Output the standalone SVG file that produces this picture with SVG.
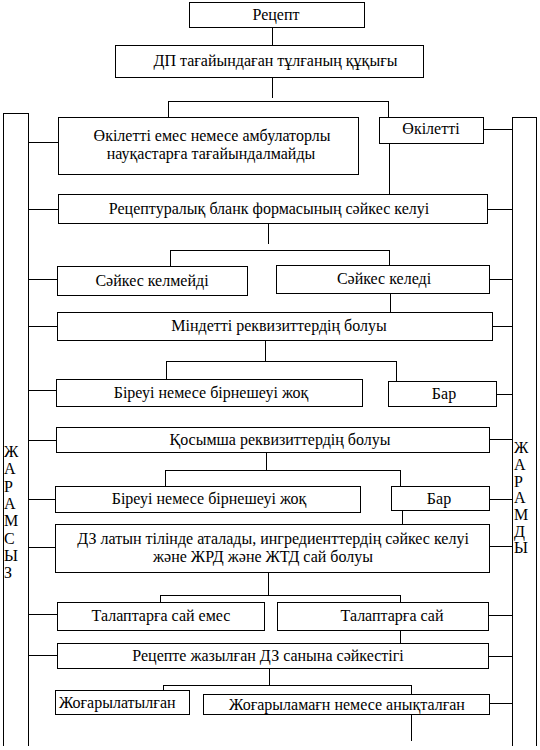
<svg xmlns="http://www.w3.org/2000/svg" width="540" height="750" viewBox="0 0 540 750">
<style>
  .box{fill:#fff;stroke:#000;stroke-width:1}
  .ln{fill:none;stroke:#000;stroke-width:1}
  text{font-family:"Liberation Serif","Times New Roman",serif;font-size:16px;fill:#000}
  .c{text-anchor:middle}
</style>
<rect width="540" height="750" fill="#fff"/>
<g id="connectors" class="ln" shape-rendering="crispEdges">
  <path d="M272.5,27 V45"/>
  <path d="M272.5,77 V97.5"/>
  <path d="M168.5,117 V101.5 H388.5 V117"/>
  <path d="M389.5,143 V194"/>
  <path d="M268.5,223 V244"/>
  <path d="M170.5,266 V250.5 H389.5 V265"/>
  <path d="M390.5,293 V312"/>
  <path d="M265.5,340 V361.5"/>
  <path d="M166.5,379 V361.5 H396.5 V381"/>
  <path d="M266.5,452 V470.5"/>
  <path d="M165.5,486 V470.5 H400.5 V486"/>
  <path d="M402.5,510 V524"/>
  <path d="M268.5,572 V595.5"/>
  <path d="M160.5,602 V595.5 H400.5 V602"/>
  <path d="M400.5,630 V643"/>
  <path d="M269.5,668 V685.5"/>
  <path d="M163.5,690 V685.5 H411.5 V694"/>
  <path d="M411.5,714 V741"/>
  <!-- left side connectors -->
  <path d="M29,142.5 H58"/>
  <path d="M29,209.5 H58"/>
  <path d="M29,279.5 H57"/>
  <path d="M29,326.5 H57"/>
  <path d="M29,390.5 H56"/>
  <path d="M29,440.5 H56"/>
  <path d="M29,499.5 H55"/>
  <path d="M29,547.5 H55"/>
  <path d="M29,614.5 H57"/>
  <path d="M29,655.5 H57"/>
  <!-- right side connectors -->
  <path d="M483,129.5 H512"/>
  <path d="M487,209.5 H512"/>
  <path d="M489,279.5 H512"/>
  <path d="M492,326.5 H512"/>
  <path d="M496,394.5 H512"/>
  <path d="M490,439.5 H512"/>
  <path d="M489,499.5 H512"/>
  <path d="M489,546.5 H512"/>
  <path d="M488,615.5 H512"/>
  <path d="M488,656.5 H512"/>
  <path d="M489,703.5 H512"/>
</g>
<g id="invalid">
  <path class="ln" shape-rendering="crispEdges" d="M3.5,746 V113.5 H28.5 V746"/>
  <text x="4" y="457">Ж</text>
  <text x="4" y="474">А</text>
  <text x="4" y="491.5">Р</text>
  <text x="4" y="509">А</text>
  <text x="4" y="526">М</text>
  <text x="4" y="543.5">С</text>
  <text x="4" y="561">Ы</text>
  <text x="4" y="578">З</text>
</g>
<g id="valid">
  <path class="ln" shape-rendering="crispEdges" d="M512.5,746 V117.5 H536.5 V746"/>
  <text x="514" y="453">Ж</text>
  <text x="514" y="470">А</text>
  <text x="514" y="487">Р</text>
  <text x="514" y="503">А</text>
  <text x="514" y="520">М</text>
  <text x="514" y="537">Д</text>
  <text x="514" y="553">Ы</text>
</g>
<g shape-rendering="crispEdges">
<g id="recept"><rect class="box" x="189.5" y="2.5" width="175" height="25"/><text class="c" x="276" y="20">Рецепт</text></g>
<g id="dp-right"><rect class="box" x="115.5" y="45.5" width="308" height="32"/><text class="c" x="275.5" y="66">ДП тағайындаған тұлғаның құқығы</text></g>
<g id="not-authorized"><rect class="box" x="58.5" y="117.5" width="300" height="57"/><text class="c" x="212" y="141">Өкілетті емес немесе амбулаторлы</text><text class="c" x="211" y="159">науқастарға тағайындалмайды</text></g>
<g id="authorized"><rect class="box" x="379.5" y="117.5" width="104" height="26"/><text class="c" x="431" y="134">Өкілетті</text></g>
<g id="form-match"><rect class="box" x="58.5" y="194.5" width="429" height="29"/><text class="c" x="269" y="214">Рецептуралық бланк формасының сәйкес келуі</text></g>
<g id="no-match"><rect class="box" x="57.5" y="266.5" width="190" height="29"/><text class="c" x="152" y="286">Сәйкес келмейді</text></g>
<g id="match"><rect class="box" x="276.5" y="265.5" width="213" height="28"/><text class="c" x="384" y="284">Сәйкес келеді</text></g>
<g id="mandatory"><rect class="box" x="57.5" y="312.5" width="435" height="28"/><text class="c" x="279" y="331">Міндетті реквизиттердің болуы</text></g>
<g id="missing-1"><rect class="box" x="56.5" y="379.5" width="306" height="27"/><text class="c" x="211" y="398">Біреуі немесе бірнешеуі жоқ</text></g>
<g id="present-1"><rect class="box" x="388.5" y="381.5" width="108" height="25"/><text class="c" x="444" y="399">Бар</text></g>
<g id="additional"><rect class="box" x="56.5" y="427.5" width="433" height="25"/><text class="c" x="280" y="445">Қосымша реквизиттердің болуы</text></g>
<g id="missing-2"><rect class="box" x="55.5" y="486.5" width="305" height="26"/><text class="c" x="209" y="504">Біреуі немесе бірнешеуі жоқ</text></g>
<g id="present-2"><rect class="box" x="391.5" y="486.5" width="98" height="24"/><text class="c" x="439" y="504">Бар</text></g>
<g id="latin"><rect class="box" x="55.5" y="524.5" width="434" height="48"/><text class="c" x="273" y="544">ДЗ латын тілінде аталады, ингредиенттердің сәйкес келуі</text><text class="c" x="263" y="562">және ЖРД және ЖТД сай болуы</text></g>
<g id="not-compliant"><rect class="box" x="57.5" y="602.5" width="207" height="28"/><text class="c" x="161" y="621">Талаптарға сай емес</text></g>
<g id="compliant"><rect class="box" x="277.5" y="602.5" width="211" height="28"/><text class="c" x="392" y="621">Талаптарға сай</text></g>
<g id="quantity"><rect class="box" x="57.5" y="643.5" width="431" height="25"/><text class="c" x="268" y="661">Рецепте жазылған ДЗ санына сәйкестігі</text></g>
<g id="raised"><rect class="box" x="55.5" y="690.5" width="134" height="24"/><text x="59" y="708">Жоғарылатылған</text></g>
<g id="not-raised"><rect class="box" x="203.5" y="694.5" width="286" height="20"/><text class="c" x="347" y="710">Жоғарыламағн немесе анықталған</text></g>
</g>
</svg>
